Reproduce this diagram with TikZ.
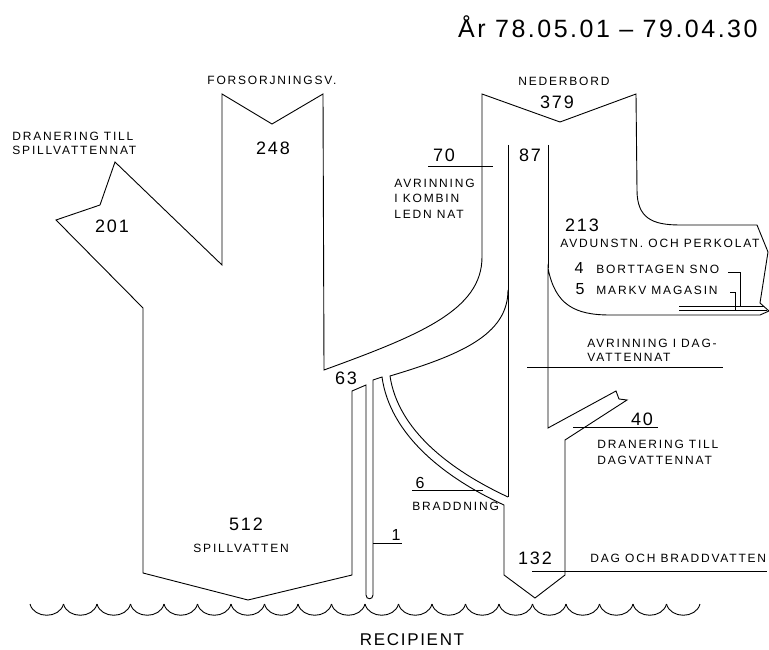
\documentclass[tikz,border=0pt]{standalone}
\usepackage{fontspec}
\setmainfont{Liberation Sans}[LetterSpace=10]
\tikzset{
  lbl/.style={font=\fontsize{12}{#1}\selectfont\addfontfeature{LetterSpace=15},inner sep=0pt,anchor=west,align=left},
  lbl/.default=15.5,
  num/.style={font=\fontsize{#1}{#1}\selectfont,inner sep=0pt},
  num/.default=18,
}
\begin{document}
\begin{tikzpicture}[x=1pt,y=-1pt,line width=0.9pt]
    \useasboundingbox (0,0) rectangle (769,650);
    \draw (222,265)--(222,94)--(272,124)--(323,94)--(324,370)
      .. controls (420,335) and (482,310) .. (482,257)--(482,94)--(560,122)--(636,94)--(637,190)
      .. controls (637,218) and (652,225) .. (680,225)--(757,225)--(768,252)--(760,303)--(769,311)--(760,315)--(610,315)
      .. controls (575,315) and (555,305) .. (548,268)--(548,428)--(616,391)--(619,399)--(627,400)--(565,440)
      --(565,575)--(535,598)--(504,575)--(504,505)
      .. controls (445,478) and (390,435) .. (382,377)--(373,380)--(373,595)
      .. controls (373,600) and (366,600) .. (366,595)--(366,385)--(352,391)--(352,575)--(248,600)--(143,573)
      --(143,308)--(56,220)--(100,205)--(115,162)--cycle;
    \draw (508,145)--(508,497);
    \draw (548,145)--(548,268);
    \draw (508,290) .. controls (508,335) and (460,355) .. (390,376)
      .. controls (398,430) and (450,470) .. (508,497);
    \draw (679,306)--(764,306);
    \draw (679,310)--(767,310);
    \draw (728,272)--(740,272)--(740,307);
    \draw (730,292)--(735,292)--(735,311);
    \draw (428,166)--(493,166);
    \draw (373,543)--(402,543);
    \draw (412,490)--(483,490);
    \draw (573,427)--(658,427);
    \draw (527,367)--(723,367);
    \draw (532,571)--(767,571);
    \foreach \x in {30,63.5,...,667}
      \draw (\x,604) .. controls ({\x+4},619) and ({\x+29.5},619) .. ({\x+33.5},604);
    \node[num=25,anchor=east] (period) at (758,27) {År 78.05.01 – 79.04.30};
    \node[lbl] (forsorj) at (207,80) {FORSORJNINGSV.};
    \node[lbl=14] (dranspill) at (12,143) {DRANERING TILL\\SPILLVATTENNAT};
    \node[lbl] (nederbord) at (518,81) {NEDERBORD};
    \node[lbl] (avrkomb) at (394,198.5) {AVRINNING\\I KOMBIN\\LEDN NAT};
    \node[lbl] (avdunst) at (560,243) {AVDUNSTN. OCH PERKOLAT};
    \node[lbl] (sno) at (596,269) {BORTTAGEN SNO};
    \node[lbl] (markv) at (596,290) {MARKV MAGASIN};
    \node[lbl=14] (avrdag) at (587,350) {AVRINNING I DAG-\\VATTENNAT};
    \node[lbl=16] (dran) at (597,452) {DRANERING TILL\\DAGVATTENNAT};
    \node[lbl] (bradd) at (412,506) {BRADDNING};
    \node[lbl] (spill) at (193,548) {SPILLVATTEN};
    \node[lbl] (dagbradd) at (590,558) {DAG OCH BRADDVATTEN};
    \node[num=17] (recip) at (412,640) {RECIPIENT};
    \node[num] (n248) at (273,148) {248};
    \node[num] (n201) at (112,226) {201};
    \node[num] (n379) at (557,102.5) {379};
    \node[num] (n87) at (530,155.5) {87};
    \node[num] (n70) at (444,155.5) {70};
    \node[num] (n63) at (346,378) {63};
    \node[num] (n213) at (582,225) {213};
    \node[num=16] (n4) at (579,268) {4};
    \node[num=16] (n5) at (580,289) {5};
    \node[num] (n40) at (642,419.5) {40};
    \node[num=16] (n6) at (420,483) {6};
    \node[num=16] (n1) at (396,535) {1};
    \node[num] (n512) at (246,524.5) {512};
    \node[num] (n132) at (535,558.5) {132};
\end{tikzpicture}
\end{document}
